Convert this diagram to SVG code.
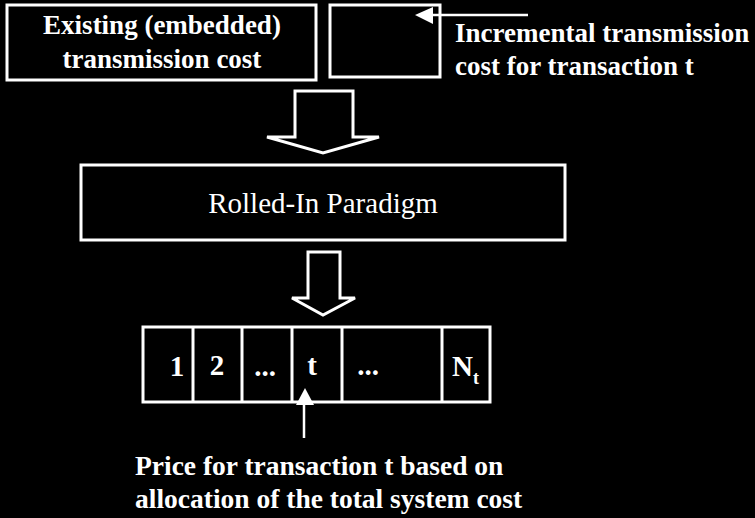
<svg xmlns="http://www.w3.org/2000/svg" width="755" height="518" viewBox="0 0 755 518">
<defs>
<style>
.box{fill:#000;stroke:#fff;stroke-width:3}
.blk{fill:#000;stroke:#fff;stroke-width:3;stroke-linejoin:miter}
.ln{stroke:#fff;stroke-width:2.5;fill:none}
text{fill:#fff}
</style>
</defs>
<rect width="755" height="518" fill="#000"/>
<g font-family="'Liberation Serif', 'Times New Roman', 'DejaVu Serif', serif">
<g id="existing">
<rect class="box" x="7" y="5" width="309" height="75"/>
<text x="162" y="34" text-anchor="middle" font-size="27" font-weight="bold">Existing (embedded)</text>
<text x="162" y="68" text-anchor="middle" font-size="27" font-weight="bold">transmission cost</text>
</g>
<g id="incremental">
<rect class="box" x="330" y="5" width="110" height="72"/>
</g>
<g id="incremental-label">
<text x="455" y="42" font-size="27" font-weight="bold">Incremental transmission</text>
<text x="455" y="75" font-size="27" font-weight="bold">cost for transaction t</text>
</g>
<g id="rolled-in">
<rect class="box" x="81" y="165" width="484" height="75"/>
<text x="323" y="213" text-anchor="middle" font-size="29">Rolled-In Paradigm</text>
</g>
<g id="cells" font-size="29" font-weight="bold">
<rect class="box" x="143" y="327" width="347" height="75"/>
<line class="box" x1="193" y1="327" x2="193" y2="402"/>
<line class="box" x1="242" y1="327" x2="242" y2="402"/>
<line class="box" x1="292" y1="327" x2="292" y2="402"/>
<line class="box" x1="342" y1="327" x2="342" y2="402"/>
<line class="box" x1="442" y1="327" x2="442" y2="402"/>
<text x="177" y="376" text-anchor="middle">1</text>
<text x="217" y="375" text-anchor="middle">2</text>
<text x="265" y="376" text-anchor="middle">...</text>
<text x="312" y="375" text-anchor="middle">t</text>
<text x="368" y="375" text-anchor="middle">...</text>
<text x="452" y="376">N<tspan font-size="18" dy="8">t</tspan></text>
</g>
<g id="price-label">
<text x="135" y="475" font-size="27.5" font-weight="bold">Price for transaction t based on</text>
<text x="135" y="508" font-size="27.5" font-weight="bold">allocation of the total system cost</text>
</g>
</g>
<g id="connectors">
<polygon class="blk" points="295,91 353,91 353,137 379,137 323,153 267,137 295,137"/>
<polygon class="blk" points="308,252 340,252 340,298 355,298 323,315 292,298 308,298"/>
<line class="ln" x1="528" y1="15" x2="430" y2="15"/>
<polygon fill="#fff" points="415,15 433,7 433,24"/>
<line class="ln" x1="304" y1="438" x2="304" y2="400"/>
<polygon fill="#fff" points="305,388 296,405 314,405"/>
</g>
</svg>
